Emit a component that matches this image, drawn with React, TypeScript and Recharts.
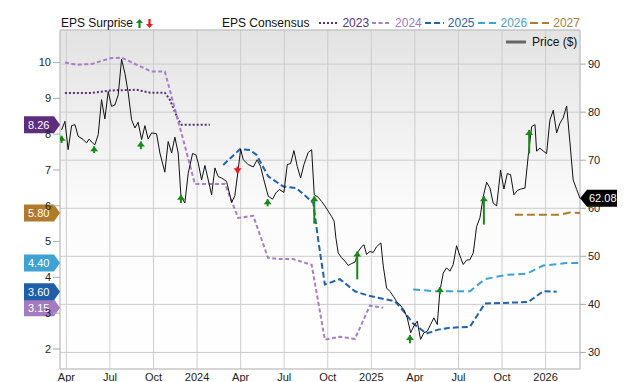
import React from 'react';
import { ComposedChart, Line, Scatter, ErrorBar, XAxis, YAxis, CartesianGrid, ReferenceLine, ReferenceArea } from 'recharts';

document.body.style.margin = '0';

// t = months since Jan 2023 (3 = Apr 2023, 12 = Jan 2024 ...)
const price: [number, number][] = [
  [2.67, 76.3], [2.9, 78.1], [3.12, 72.2], [3.36, 77.2], [3.59, 77.4], [3.81, 75.0], [4.16, 74.3], [4.39, 73.6],
  [4.57, 74.4], [4.8, 73.6], [4.96, 73.2], [5.19, 75.3], [5.42, 82.6], [5.65, 78.6], [5.88, 84.3], [6.11, 81.2],
  [6.34, 81.5], [6.57, 83.6], [6.8, 91.0], [7.03, 88.1], [7.26, 84.0], [7.49, 78.4], [7.72, 76.7], [7.94, 77.9],
  [8.18, 74.3], [8.41, 77.2], [8.63, 74.4], [8.87, 75.7], [9.21, 75.5], [9.44, 71.5], [9.78, 67.5], [10.01, 73.9],
  [10.25, 71.5], [10.47, 74.8], [10.7, 71.5], [10.89, 62.5], [11.16, 61.1], [11.39, 67.3], [11.69, 71.4], [11.92, 71.1],
  [12.08, 69.4], [12.31, 65.9], [12.54, 68.9], [12.77, 65.9], [13.0, 62.8], [13.23, 68.4], [13.45, 66.6], [13.69, 66.3],
  [14.03, 65.6], [14.38, 61.2], [14.6, 62.6], [14.83, 68.0], [15.0, 72.3], [15.18, 70.1], [15.52, 69.1], [15.87, 68.6],
  [16.14, 70.1], [16.37, 68.7], [16.6, 65.9], [16.9, 62.5], [17.2, 61.9], [17.43, 63.2], [17.66, 63.9], [17.98, 63.3],
  [18.21, 69.1], [18.44, 69.3], [18.67, 72.0], [18.9, 68.7], [19.13, 66.3], [19.36, 69.1], [19.65, 71.6], [19.89, 72.2],
  [20.07, 62.8], [20.34, 62.3], [20.58, 61.4], [20.8, 60.5], [21.03, 59.4], [21.26, 58.3], [21.44, 57.3], [21.56, 53.8],
  [21.72, 50.7], [21.95, 49.7], [22.18, 49.0], [22.41, 48.1], [22.64, 48.5], [22.87, 48.8], [23.1, 51.0], [23.33, 52.0],
  [23.49, 52.4], [23.67, 50.4], [23.9, 51.0], [24.13, 50.8], [24.36, 52.0], [24.66, 52.8], [24.82, 48.0], [25.05, 43.4],
  [25.28, 42.7], [25.51, 41.7], [25.74, 40.6], [25.97, 39.9], [26.24, 38.9], [26.47, 37.2], [26.71, 34.1], [26.93, 35.5],
  [27.16, 36.5], [27.39, 32.7], [27.62, 34.1], [27.85, 34.4], [28.08, 35.8], [28.31, 37.2], [28.54, 35.8], [28.72, 42.7],
  [28.95, 46.5], [29.18, 47.6], [29.41, 46.9], [29.64, 48.3], [29.87, 52.2], [30.1, 50.1], [30.33, 48.3], [30.56, 49.2],
  [30.79, 49.3], [31.02, 50.7], [31.25, 56.2], [31.48, 58.0], [31.71, 62.5], [31.94, 65.4], [32.17, 64.2], [32.39, 61.1],
  [32.63, 60.5], [32.9, 67.9], [33.13, 64.0], [33.36, 67.2], [33.59, 67.0], [33.82, 62.8], [34.05, 63.7], [34.28, 64.0],
  [34.58, 64.2], [34.8, 70.8], [35.04, 77.0], [35.27, 77.4], [35.38, 71.9], [35.61, 72.5], [35.84, 71.9], [36.07, 71.4],
  [36.3, 78.4], [36.53, 80.4], [36.76, 75.7], [36.99, 77.7], [37.21, 78.8], [37.45, 81.3], [37.68, 73.6], [37.9, 65.9],
  [38.14, 63.9], [38.37, 62.08],
];

const eps2023: [number, number][] = [
  [2.9, 9.15], [4.74, 9.15], [6.0, 9.22], [7.83, 9.24], [8.75, 9.16], [9.78, 9.16], [10.13, 8.96], [10.7, 8.4],
  [10.93, 8.26], [12.88, 8.26],
];
const eps2024: [number, number][] = [
  [2.9, 10.0], [3.7, 9.94], [4.74, 9.96], [6.0, 10.12], [6.8, 10.14], [7.83, 9.94], [8.86, 9.75], [9.78, 9.75],
  [10.36, 8.87], [11.05, 7.84], [11.85, 6.61], [13.92, 6.61], [14.83, 5.66], [15.87, 5.72], [16.45, 5.05], [16.88, 4.55],
  [17.7, 4.51], [18.62, 4.51], [19.89, 4.35], [20.8, 2.26], [21.84, 2.34], [22.87, 2.28], [23.9, 3.21], [24.82, 3.15],
];
const eps2025: [number, number][] = [
  [13.8, 7.14], [14.95, 7.58], [15.64, 7.56], [16.1, 7.42], [16.9, 6.82], [17.93, 6.54], [18.85, 6.49], [20.0, 6.08],
  [20.34, 5.05], [20.8, 3.8], [21.84, 3.95], [22.87, 3.61], [23.79, 3.49], [24.71, 3.41], [25.63, 3.33], [26.31, 3.01],
  [26.88, 2.71], [27.8, 2.43], [28.6, 2.54], [29.41, 2.59], [30.79, 2.62], [31.82, 3.27], [34.8, 3.31], [35.84, 3.61],
  [36.76, 3.6],
];
const eps2026: [number, number][] = [
  [26.88, 3.66], [28.5, 3.61], [30.79, 3.61], [31.82, 3.95], [33.32, 4.07], [34.69, 4.1], [35.84, 4.33], [37.45, 4.4],
  [38.37, 4.4],
];
const eps2027: [number, number][] = [
  [33.89, 5.75], [36.99, 5.75], [37.68, 5.81], [38.37, 5.8],
];

// [t, price at arrow head, stem length in $]
const beats: [number, number, number][] = [
  [2.67, 75.1, 1.5], [4.91, 72.9, 1.4], [8.13, 73.9, 1.6], [10.89, 62.8, 1.7], [16.86, 61.9, 1.5], [20.07, 62.5, 5.7],
  [23.03, 51.0, 5.8], [26.66, 33.6, 1.7], [28.72, 43.6, 1.5], [31.75, 62.5, 5.9], [34.87, 76.3, 4.9],
];
const misses: [number, number, number][] = [[14.79, 67.3, 1.4]];

const xTicks = [3, 6, 9, 12, 15, 18, 21, 24, 27, 30, 33, 36];
const leftTicks = [2, 3, 4, 5, 6, 7, 8, 9, 10];
const rightTicks = [30, 40, 50, 60, 70, 80, 90];
const monthNames = ['Jan', 'Feb', 'Mar', 'Apr', 'May', 'Jun', 'Jul', 'Aug', 'Sep', 'Oct', 'Nov', 'Dec'];

const xDomain: [number, number] = [2.56, 38.37];
const leftDomain: [number, number] = [1.44, 10.91];
const rightDomain: [number, number] = [26.55, 97.1];

const GREEN = '#168a16';
const RED = '#e8191b';

const consensus = [
  { name: '2023', data: eps2023, color: '#5c2b84', text: '#5c2d84', tag: '#5e2d80', dash: '2 2' },
  { name: '2024', data: eps2024, color: '#a67fc4', text: '#9e79bd', tag: '#a47bbf', dash: '4 2.5' },
  { name: '2025', data: eps2025, color: '#1f62b0', text: '#2b62a9', tag: '#1f5ea9', dash: '6 3' },
  { name: '2026', data: eps2026, color: '#3aa3d4', text: '#4ba3cf', tag: '#3ea2d2', dash: '7 4' },
  { name: '2027', data: eps2027, color: '#b07b2c', text: '#a97e3b', tag: '#b07a2a', dash: '8 4' },
];

const toPts = (arr: [number, number][]) => arr.map(([t, v]) => ({ t, v }));
const toArrows = (arr: [number, number, number][], up: boolean) =>
  arr.map(([t, p, len]) => ({ t, p, err: up ? [len, 0] : [0, len] }));

const fmtX = (m: number) => (m % 12 === 0 ? String(2023 + m / 12) : monthNames[m % 12]);

const ArrowHead = ({ cx, cy, up }: { cx: number; cy: number; up: boolean }) => {
  const d = up
    ? `M${cx},${cy} L${cx + 4},${cy + 5} L${cx - 4},${cy + 5} Z`
    : `M${cx},${cy} L${cx + 4},${cy - 5} L${cx - 4},${cy - 5} Z`;
  return <path d={d} fill={up ? GREEN : RED} />;
};

const LeftTag = ({ viewBox, text, color }: any) => {
  const x = viewBox.x;
  const y = viewBox.y;
  return (
    <g>
      <path d={`M${x - 36},${y - 8.5} H${x - 6} L${x},${y} L${x - 6},${y + 8.5} H${x - 36} Z`} fill={color} />
      <text x={x - 32} y={y + 4} fill="#fff" fontSize={11}>{text}</text>
    </g>
  );
};

const RightTag = ({ viewBox, text }: any) => {
  const x = viewBox.x + viewBox.width;
  const y = viewBox.y;
  return (
    <g>
      <path d={`M${x},${y} L${x + 7},${y - 8.5} H${x + 37} V${y + 8.5} H${x + 7} Z`} fill="#000" />
      <text x={x + 9} y={y + 4} fill="#fff" fontSize={11}>{text}</text>
    </g>
  );
};

const LegendSample = ({ color, dash }: { color: string; dash: string }) => (
  <svg width={19} height={6} style={{ marginLeft: 3 }}>
    <line x1={0} y1={3} x2={19} y2={3} stroke={color} strokeWidth={2} strokeDasharray={dash} />
  </svg>
);

const TopLegend = () => (
  <>
    <div style={{ position: 'absolute', left: 61, top: 16, display: 'flex', alignItems: 'center', fontSize: 12, color: '#111' }}>
      <span>EPS Surprise</span>
      <svg width={18} height={9} style={{ marginLeft: 3 }}>
        <path d="M3.5,0 L7,4 L4.6,4 L4.6,9 L2.4,9 L2.4,4 L0,4 Z" fill={GREEN} />
        <path d="M13.5,9 L17,5 L14.6,5 L14.6,0 L12.4,0 L12.4,5 L10,5 Z" fill={RED} />
      </svg>
    </div>
    <div style={{ position: 'absolute', left: 222, top: 16, display: 'flex', alignItems: 'center', fontSize: 12, color: '#111' }}>
      <span style={{ marginRight: 7 }}>EPS Consensus</span>
      {consensus.map((s) => (
        <React.Fragment key={s.name}>
          <LegendSample color={s.color} dash={s.dash} />
          <span style={{ color: s.text, marginLeft: 4 }}>{s.name}</span>
        </React.Fragment>
      ))}
    </div>
    <div style={{ position: 'absolute', left: 506, top: 35, display: 'flex', alignItems: 'center', fontSize: 12, color: '#111' }}>
      <svg width={20} height={4}>
        <line x1={0} y1={2} x2={20} y2={2} stroke="#666" strokeWidth={3} />
      </svg>
      <span style={{ marginLeft: 6 }}>Price ($)</span>
    </div>
  </>
);

export default function App() {
  const last = price[price.length - 1][1];
  return (
    <div style={{ position: 'relative', width: 640, height: 382, fontFamily: '"Liberation Sans", Arial, sans-serif', background: '#fff' }}>
      <ComposedChart width={640} height={382} margin={{ top: 30, right: 0, bottom: 0, left: 0 }}>
        <defs>
          <linearGradient id="plotBg" x1="0" y1="0" x2="0" y2="1">
            <stop offset="0" stopColor="#e3e3e3" />
            <stop offset="0.55" stopColor="#fcfcfc" />
            <stop offset="1" stopColor="#ffffff" />
          </linearGradient>
        </defs>
        <CartesianGrid yAxisId="right" stroke="#cccccc" fill="url(#plotBg)" fillOpacity={1} />
        <XAxis
          dataKey="t"
          type="number"
          domain={xDomain}
          ticks={xTicks}
          tickFormatter={fmtX}
          allowDataOverflow
          height={13}
          axisLine={false}
          tickLine={false}
          tick={{ fontSize: 11, fill: '#222' }}
          tickMargin={-2}
        />
        <YAxis
          yAxisId="left"
          orientation="left"
          width={60}
          domain={leftDomain}
          ticks={leftTicks}
          allowDataOverflow
          axisLine={false}
          tickLine={{ stroke: '#aaa' }}
          tickSize={7}
          tick={{ fontSize: 11, fill: '#222' }}
        />
        <YAxis
          yAxisId="right"
          orientation="right"
          width={60}
          domain={rightDomain}
          ticks={rightTicks}
          allowDataOverflow
          axisLine={false}
          tickLine={{ stroke: '#aaa' }}
          tickSize={6}
          tick={{ fontSize: 11, fill: '#222' }}
        />
        <ReferenceArea
          yAxisId="right"
          x1={xDomain[0]}
          x2={xDomain[1]}
          y1={rightDomain[0]}
          y2={rightDomain[1]}
          fill="none"
          stroke="#c4c4c4"
          ifOverflow="visible"
        />
        {consensus.map((s) => (
          <Line
            key={s.name}
            yAxisId="left"
            data={toPts(s.data)}
            dataKey="v"
            stroke={s.color}
            strokeWidth={2}
            strokeDasharray={s.dash}
            dot={false}
            activeDot={false}
            isAnimationActive={false}
          />
        ))}
        <Line
          yAxisId="right"
          data={toPts(price)}
          dataKey="v"
          stroke="#111"
          strokeWidth={1}
          dot={false}
          activeDot={false}
          isAnimationActive={false}
        />
        <Scatter
          yAxisId="right"
          data={toArrows(beats, true)}
          dataKey="p"
          isAnimationActive={false}
          shape={(p: any) => <ArrowHead cx={p.cx} cy={p.cy} up />}
        >
          <ErrorBar dataKey="err" direction="y" width={0} stroke={GREEN} strokeWidth={2} />
        </Scatter>
        <Scatter
          yAxisId="right"
          data={toArrows(misses, false)}
          dataKey="p"
          isAnimationActive={false}
          shape={(p: any) => <ArrowHead cx={p.cx} cy={p.cy} up={false} />}
        >
          <ErrorBar dataKey="err" direction="y" width={0} stroke={RED} strokeWidth={2} />
        </Scatter>
        {consensus.map((s) => {
          const v = s.data[s.data.length - 1][1];
          return (
            <ReferenceLine
              key={'tag' + s.name}
              yAxisId="left"
              y={v}
              stroke="none"
              label={(p: any) => <LeftTag viewBox={p.viewBox} text={v.toFixed(2)} color={s.tag} />}
            />
          );
        })}
        <ReferenceLine
          yAxisId="right"
          y={last}
          stroke="none"
          label={(p: any) => <RightTag viewBox={p.viewBox} text={last.toFixed(2)} />}
        />
      </ComposedChart>
      <TopLegend />
    </div>
  );
}
